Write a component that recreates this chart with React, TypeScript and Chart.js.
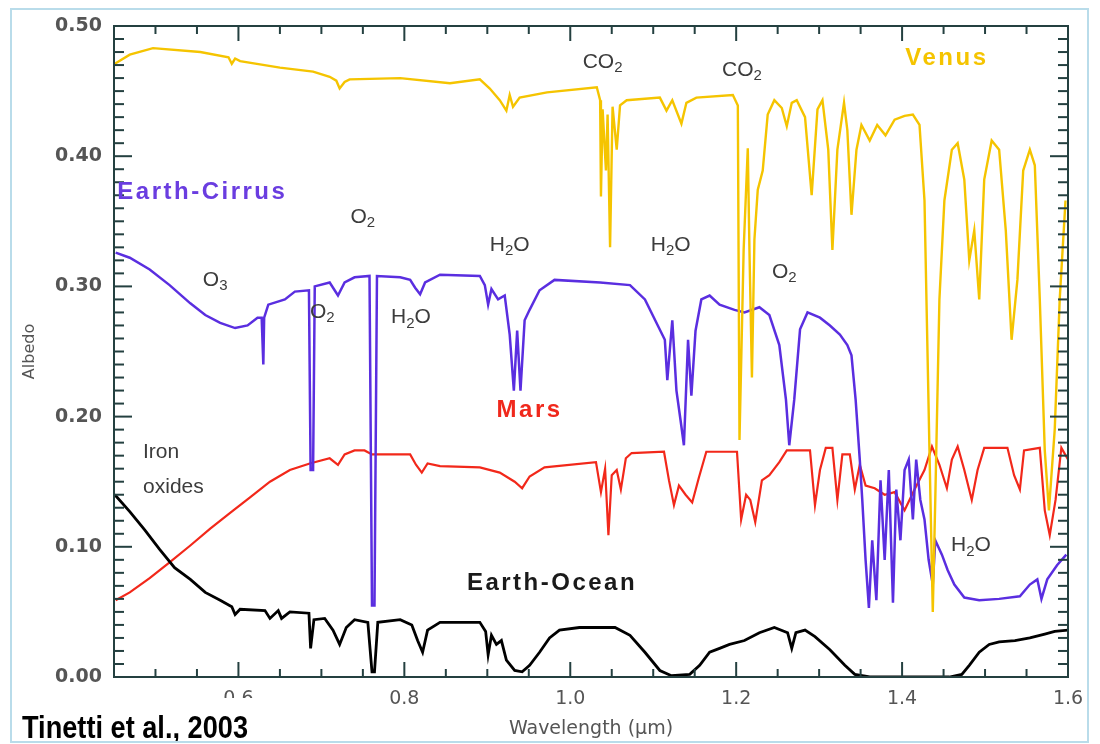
import React, { useEffect, useRef } from "react";
import { Chart, registerables } from "chart.js";

Chart.register(...registerables);

// ---------- data (wavelength in µm, albedo) ----------
const venusWl = [
  0.451, 0.469, 0.497, 0.554, 0.588, 0.592, 0.596, 0.602, 0.65, 0.69, 0.71, 0.718, 0.722, 0.728, 0.734,
  0.795, 0.855, 0.891, 0.903, 0.915, 0.923, 0.927, 0.931, 0.939, 0.972, 1.032, 1.036, 1.037, 1.039, 1.043,
  1.045, 1.048, 1.051, 1.056, 1.06, 1.068, 1.108, 1.116, 1.123, 1.134, 1.14, 1.152, 1.196, 1.202, 1.204,
  1.209, 1.214, 1.216, 1.219, 1.222, 1.226, 1.232, 1.238, 1.246, 1.255, 1.261, 1.267, 1.273, 1.283, 1.291,
  1.298, 1.304, 1.311, 1.316, 1.322, 1.33, 1.334, 1.339, 1.345, 1.351, 1.361, 1.37, 1.38, 1.391, 1.403,
  1.413, 1.421, 1.427, 1.433, 1.437, 1.44, 1.445, 1.451, 1.46, 1.467, 1.475, 1.481, 1.487, 1.493, 1.499,
  1.508, 1.517, 1.525, 1.532, 1.539, 1.546, 1.554, 1.56, 1.566, 1.572, 1.577, 1.584, 1.59, 1.597,
];
const venusAlbedo = [
  0.471, 0.478, 0.483, 0.48, 0.476, 0.471, 0.475, 0.473, 0.468, 0.465, 0.461, 0.458, 0.452, 0.457, 0.459,
  0.46, 0.456, 0.459, 0.452, 0.443, 0.435, 0.447, 0.438, 0.445, 0.449, 0.453, 0.443, 0.369, 0.436, 0.389,
  0.432, 0.33, 0.438, 0.405, 0.439, 0.443, 0.445, 0.435, 0.443, 0.425, 0.441, 0.445, 0.447, 0.439, 0.182,
  0.328, 0.406, 0.328, 0.23, 0.336, 0.374, 0.389, 0.432, 0.443, 0.437, 0.423, 0.441, 0.443, 0.43, 0.37,
  0.436, 0.443, 0.405, 0.328, 0.405, 0.441, 0.42, 0.355, 0.405, 0.424, 0.412, 0.424, 0.416, 0.428, 0.431,
  0.432, 0.424, 0.366, 0.174, 0.05, 0.136, 0.29, 0.366, 0.405, 0.41, 0.382, 0.32, 0.343, 0.29, 0.382,
  0.412, 0.405, 0.343, 0.259, 0.305, 0.389, 0.405, 0.393, 0.29, 0.174, 0.128, 0.19, 0.29, 0.366,
];

const cirrusWl = [
  0.452, 0.469, 0.493, 0.517, 0.542, 0.56, 0.578, 0.596, 0.611, 0.623, 0.628, 0.63, 0.631, 0.636, 0.656,
  0.668, 0.685, 0.687, 0.69, 0.692, 0.71, 0.72, 0.728, 0.74, 0.758, 0.761, 0.764, 0.767, 0.795, 0.807,
  0.813, 0.819, 0.825, 0.843, 0.891, 0.897, 0.901, 0.905, 0.913, 0.921, 0.927, 0.932, 0.936, 0.94, 0.945,
  0.951, 0.963, 0.981, 1.036, 1.072, 1.09, 1.114, 1.117, 1.123, 1.128, 1.133, 1.137, 1.142, 1.146, 1.151,
  1.158, 1.168, 1.18, 1.198, 1.21, 1.228, 1.24, 1.252, 1.26, 1.264, 1.27, 1.277, 1.286, 1.301, 1.313,
  1.325, 1.334, 1.339, 1.344, 1.349, 1.352, 1.356, 1.36, 1.364, 1.369, 1.374, 1.379, 1.384, 1.389, 1.393,
  1.398, 1.403, 1.408, 1.413, 1.417, 1.422, 1.427, 1.432, 1.437, 1.44, 1.448, 1.455, 1.463, 1.475, 1.493,
  1.517, 1.542, 1.554, 1.563, 1.568, 1.575, 1.587, 1.598,
];
const cirrusAlbedo = [
  0.326, 0.322, 0.313, 0.301, 0.287, 0.278, 0.272, 0.268, 0.27, 0.276, 0.276, 0.24, 0.276, 0.286, 0.29,
  0.296, 0.297, 0.159, 0.159, 0.3, 0.303, 0.293, 0.303, 0.307, 0.308, 0.055, 0.055, 0.308, 0.307, 0.305,
  0.299, 0.294, 0.303, 0.309, 0.308, 0.301, 0.286, 0.298, 0.29, 0.293, 0.263, 0.22, 0.266, 0.22, 0.274,
  0.282, 0.297, 0.305, 0.303, 0.301, 0.29, 0.259, 0.228, 0.274, 0.22, 0.197, 0.178, 0.259, 0.216, 0.266,
  0.29, 0.293, 0.286, 0.282, 0.28, 0.284, 0.278, 0.255, 0.213, 0.178, 0.213, 0.267, 0.28, 0.276, 0.27,
  0.263, 0.255, 0.247, 0.213, 0.167, 0.136, 0.09, 0.053, 0.105, 0.059, 0.151, 0.09, 0.159, 0.057, 0.144,
  0.105, 0.159, 0.167, 0.121, 0.167, 0.136, 0.121, 0.09, 0.071, 0.105, 0.094, 0.082, 0.071, 0.061, 0.059,
  0.06, 0.062, 0.071, 0.075, 0.06, 0.075, 0.086, 0.094,
];

const marsWl = [
  0.452, 0.469, 0.493, 0.517, 0.542, 0.566, 0.59, 0.614, 0.638, 0.662, 0.686, 0.71, 0.72, 0.728, 0.74,
  0.752, 0.761, 0.807, 0.814, 0.821, 0.828, 0.843, 0.891, 0.915, 0.933, 0.942, 0.951, 0.969, 1.031, 1.037,
  1.042, 1.046, 1.05, 1.056, 1.061, 1.067, 1.074, 1.113, 1.119, 1.125, 1.131, 1.139, 1.147, 1.155, 1.164,
  1.201, 1.206, 1.212, 1.217, 1.223, 1.231, 1.24, 1.252, 1.261, 1.289, 1.295, 1.301, 1.308, 1.316, 1.322,
  1.328, 1.337, 1.343, 1.349, 1.356, 1.367, 1.379, 1.391, 1.403, 1.415, 1.427, 1.436, 1.445, 1.454, 1.46,
  1.467, 1.475, 1.484, 1.491, 1.499, 1.527, 1.535, 1.542, 1.547, 1.566, 1.572, 1.578, 1.585, 1.592, 1.6,
];
const marsAlbedo = [
  0.059, 0.065, 0.076, 0.088, 0.101, 0.114, 0.126, 0.138, 0.15, 0.159, 0.164, 0.168, 0.163, 0.171, 0.174,
  0.174, 0.171, 0.171, 0.163, 0.157, 0.164, 0.162, 0.161, 0.157, 0.15, 0.145, 0.154, 0.161, 0.165, 0.142,
  0.16, 0.109, 0.155, 0.159, 0.144, 0.168, 0.172, 0.173, 0.151, 0.132, 0.147, 0.14, 0.134, 0.153, 0.173,
  0.173, 0.121, 0.14, 0.136, 0.119, 0.151, 0.155, 0.165, 0.174, 0.174, 0.132, 0.159, 0.176, 0.176, 0.136,
  0.171, 0.171, 0.144, 0.163, 0.147, 0.145, 0.14, 0.142, 0.128, 0.144, 0.159, 0.177, 0.163, 0.145, 0.167,
  0.177, 0.159, 0.136, 0.159, 0.176, 0.176, 0.155, 0.144, 0.174, 0.176, 0.128, 0.109, 0.136, 0.176, 0.167,
];

const oceanWl = [
  0.451, 0.469, 0.487, 0.505, 0.523, 0.542, 0.56, 0.578, 0.592, 0.596, 0.602, 0.632, 0.638, 0.648, 0.652,
  0.662, 0.685, 0.687, 0.691, 0.704, 0.714, 0.722, 0.73, 0.74, 0.756, 0.761, 0.764, 0.768, 0.795, 0.809,
  0.816, 0.822, 0.828, 0.843, 0.891, 0.898, 0.901, 0.905, 0.911, 0.917, 0.923, 0.933, 0.942, 0.951, 0.963,
  0.975, 0.987, 1.011, 1.054, 1.072, 1.09, 1.108, 1.122, 1.144, 1.156, 1.168, 1.18, 1.192, 1.21, 1.228,
  1.246, 1.262, 1.267, 1.272, 1.283, 1.295, 1.313, 1.331, 1.343, 1.361, 1.457, 1.472, 1.481, 1.493, 1.505,
  1.517, 1.536, 1.554, 1.572, 1.584, 1.6,
];
const oceanAlbedo = [
  0.14, 0.127, 0.113, 0.098, 0.084, 0.075, 0.065, 0.059, 0.054, 0.048, 0.052, 0.051, 0.045, 0.051, 0.045,
  0.05, 0.049, 0.022, 0.044, 0.045, 0.036, 0.025, 0.038, 0.044, 0.042, 0.004, 0.004, 0.042, 0.044, 0.04,
  0.028, 0.019, 0.036, 0.042, 0.042, 0.035, 0.017, 0.032, 0.025, 0.028, 0.013, 0.005, 0.004, 0.009, 0.019,
  0.03, 0.036, 0.038, 0.038, 0.032, 0.019, 0.005, 0.001, 0.002, 0.009, 0.019, 0.022, 0.025, 0.028, 0.034,
  0.038, 0.034, 0.022, 0.034, 0.036, 0.031, 0.021, 0.009, 0.002, 0.0, 0.0, 0.002, 0.009, 0.019, 0.025,
  0.027, 0.028, 0.03, 0.033, 0.035, 0.036,
];

const xTickValues = [0.6, 0.8, 1.0, 1.2, 1.4, 1.6];
const yTickValues = [0, 0.1, 0.2, 0.3, 0.4, 0.5];

// text labels anchored in data coordinates (wavelength, albedo)
const chemLabels = [
  { text: "CO2", wl: 1.039, alb: 0.472 },
  { text: "CO2", wl: 1.207, alb: 0.466 },
  { text: "O2", wl: 0.75, alb: 0.353 },
  { text: "H2O", wl: 0.927, alb: 0.332 },
  { text: "H2O", wl: 1.121, alb: 0.332 },
  { text: "O3", wl: 0.572, alb: 0.305 },
  { text: "O2", wl: 0.701, alb: 0.28 },
  { text: "H2O", wl: 0.808, alb: 0.276 },
  { text: "O2", wl: 1.258, alb: 0.311 },
  { text: "H2O", wl: 1.483, alb: 0.101 },
];
const seriesLabels = [
  { text: "Venus", wl: 1.454, alb: 0.475, color: "#f5c400", align: "center" },
  { text: "Earth-Cirrus", wl: 0.454, alb: 0.372, color: "#6a3de0", align: "left" },
  { text: "Mars", wl: 0.951, alb: 0.205, color: "#f0281c", align: "center" },
  { text: "Earth-Ocean", wl: 0.978, alb: 0.072, color: "#1a1a1a", align: "center" },
];
const plainLabels = [
  { text: "Iron", wl: 0.485, alb: 0.173 },
  { text: "oxides", wl: 0.485, alb: 0.146 },
];

const AXIS = "#244040";
const TEXT = "#3c3c3c";

function drawChem(ctx: CanvasRenderingContext2D, text: string, cx: number, cy: number, size: number) {
  const parts = text.match(/(\d+|\D+)/g) || [];
  const subSize = Math.round(size * 0.72);
  const fonts = parts.map((p) =>
    /^\d+$/.test(p) ? `${subSize}px "Liberation Sans", Arial, sans-serif` : `${size}px "Liberation Sans", Arial, sans-serif`
  );
  let total = 0;
  const widths = parts.map((p, i) => {
    ctx.font = fonts[i];
    const w = ctx.measureText(p).width;
    total += w;
    return w;
  });
  let x = cx - total / 2;
  ctx.textAlign = "left";
  ctx.textBaseline = "middle";
  parts.forEach((p, i) => {
    ctx.font = fonts[i];
    const isSub = /^\d+$/.test(p);
    ctx.fillText(p, x, isSub ? cy + size * 0.28 : cy);
    x += widths[i];
  });
}

const overlayPlugin = {
  id: "overlay",
  afterDraw(chart: any) {
    const { ctx, chartArea: a, scales } = chart;
    const xs = scales.x;
    const ys = scales.y;
    ctx.save();
    // frame
    ctx.strokeStyle = AXIS;
    ctx.lineWidth = 2;
    ctx.strokeRect(a.left, a.top, a.right - a.left, a.bottom - a.top);
    // inward ticks
    const line = (x1: number, y1: number, x2: number, y2: number) => {
      ctx.beginPath();
      ctx.moveTo(x1, y1);
      ctx.lineTo(x2, y2);
      ctx.stroke();
    };
    for (let i = 0; i <= 50; i++) {
      const py = ys.getPixelForValue(i / 100);
      const len = i % 10 === 0 ? 18 : 10;
      line(a.left, py, a.left + len, py);
      line(a.right, py, a.right - len, py);
    }
    for (let i = 10; i <= 32; i++) {
      const v = i * 0.05;
      if (v < 0.45 || v > 1.6) continue;
      const px = xs.getPixelForValue(v);
      const len = i % 4 === 0 ? 15 : 8;
      line(px, a.bottom, px, a.bottom - len);
      line(px, a.top, px, a.top + len);
    }

    // chemistry labels
    ctx.fillStyle = TEXT;
    chemLabels.forEach((l) => {
      drawChem(ctx, l.text, xs.getPixelForValue(l.wl), ys.getPixelForValue(l.alb), 21);
    });
    // plain labels
    ctx.font = '21px "Liberation Sans", Arial, sans-serif';
    ctx.textAlign = "left";
    ctx.textBaseline = "middle";
    plainLabels.forEach((l) => {
      ctx.fillText(l.text, xs.getPixelForValue(l.wl), ys.getPixelForValue(l.alb));
    });
    // series labels
    ctx.font = 'bold 24px "Liberation Sans", Arial, sans-serif';
    (ctx as any).letterSpacing = "2.5px";
    seriesLabels.forEach((l) => {
      ctx.fillStyle = l.color;
      ctx.textAlign = l.align as CanvasTextAlign;
      ctx.fillText(l.text, xs.getPixelForValue(l.wl), ys.getPixelForValue(l.alb));
    });
    (ctx as any).letterSpacing = "0px";

    // citation
    ctx.fillStyle = "#ffffff";
    ctx.fillRect(12, 698, 250, 43);
    ctx.fillStyle = "#000000";
    ctx.font = 'bold 32px "Liberation Sans Narrow", "Liberation Sans", Arial, sans-serif';
    ctx.textAlign = "left";
    ctx.textBaseline = "alphabetic";
    ctx.fillText("Tinetti et al., 2003", 22, 738, 226);

    // outer slide frame
    ctx.strokeStyle = "#b9dcea";
    ctx.lineWidth = 2;
    ctx.strokeRect(11, 9, 1077, 733);
    ctx.restore();
  },
};

export default function App() {
  const canvasRef = useRef<HTMLCanvasElement | null>(null);

  useEffect(() => {
    if (!canvasRef.current) return;
    const mk = (wl: number[], alb: number[]) => wl.map((x, i) => ({ x, y: alb[i] }));
    const chart = new Chart(canvasRef.current, {
      type: "line",
      data: {
        datasets: [
          { label: "Earth-Ocean", data: mk(oceanWl, oceanAlbedo), borderColor: "#000000", borderWidth: 2.8, order: 0 },
          { label: "Venus", data: mk(venusWl, venusAlbedo), borderColor: "#f5c400", borderWidth: 2.4, order: 1 },
          { label: "Earth-Cirrus", data: mk(cirrusWl, cirrusAlbedo), borderColor: "#5a2ee0", borderWidth: 2.5, order: 2 },
          { label: "Mars", data: mk(marsWl, marsAlbedo), borderColor: "#f2281a", borderWidth: 2.2, order: 3 },
        ],
      },
      options: {
        responsive: false,
        animation: false,
        layout: { padding: { top: 26, right: 32, left: 0, bottom: 0 } },
        plugins: { legend: { display: false }, tooltip: { enabled: false } },
        elements: { point: { radius: 0 }, line: { tension: 0, fill: false } },
        scales: {
          x: {
            type: "linear",
            min: 0.45,
            max: 1.6,
            grid: { display: false, drawTicks: false },
            border: { display: false },
            afterBuildTicks: (s: any) => {
              s.ticks = xTickValues.map((v) => ({ value: v }));
            },
            afterFit: (s: any) => {
              s.height = 67;
            },
            ticks: {
              autoSkip: false,
              maxRotation: 0,
              padding: 11,
              color: "#555555",
              font: { family: '"DejaVu Sans", sans-serif', size: 19 },
              callback: (v: any) => Number(v).toFixed(1),
            },
            title: {
              display: true,
              text: "Wavelength (μm)",
              color: "#555555",
              font: { family: '"DejaVu Sans", sans-serif', size: 19 },
              padding: { top: 0, bottom: 4 },
            },
          },
          y: {
            type: "linear",
            min: 0,
            max: 0.5,
            grid: { display: false, drawTicks: false },
            border: { display: false },
            afterBuildTicks: (s: any) => {
              s.ticks = yTickValues.map((v) => ({ value: v }));
            },
            afterFit: (s: any) => {
              s.width = 114;
            },
            ticks: {
              padding: 12,
              color: "#555555",
              font: { family: '"DejaVu Sans", sans-serif', size: 19, weight: "bold" },
              callback: (v: any) => Number(v).toFixed(2),
            },
            title: {
              display: true,
              text: "Albedo",
              color: "#555555",
              font: { family: '"DejaVu Sans", sans-serif', size: 16 },
              padding: { top: 20, bottom: 0 },
            },
          },
        },
      },
      plugins: [overlayPlugin],
    } as any);
    return () => chart.destroy();
  }, []);

  return (
    <div style={{ position: "absolute", left: 0, top: 0, width: 1100, height: 744, background: "#ffffff" }}>
      <canvas ref={canvasRef} width={1100} height={744} style={{ display: "block" }} />
    </div>
  );
}
